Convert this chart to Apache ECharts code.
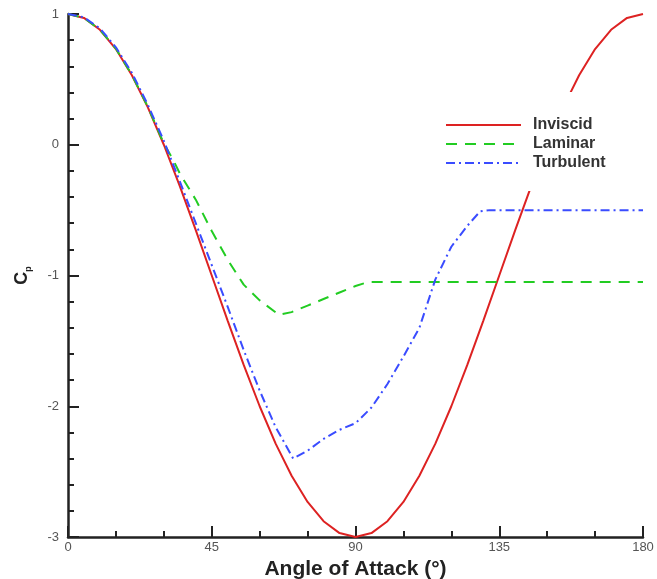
<html>
<head>
    <meta charset="utf-8">
    <title>Cp vs Angle of Attack</title>
    <script src="https://cdn.jsdelivr.net/npm/echarts@6/dist/echarts.min.js"></script>
</head>
<body style="margin:0;background:#fff">
<div id="main" style="width: 657px;height:579px;"></div>
<script type="text/javascript">
    // values: [angle, Cp]
    var inviscid = [
        [0, 1], [5, 0.97], [10, 0.879], [15, 0.732], [20, 0.532], [25, 0.286], [30, 0],
        [35, -0.316], [40, -0.653], [45, -1], [50, -1.347], [55, -1.684], [60, -2],
        [65, -2.286], [70, -2.532], [75, -2.732], [80, -2.879], [85, -2.97], [90, -3],
        [95, -2.97], [100, -2.879], [105, -2.732], [110, -2.532], [115, -2.286], [120, -2],
        [125, -1.684], [130, -1.347], [135, -1], [140, -0.653], [145, -0.316], [150, 0],
        [155, 0.286], [160, 0.532], [165, 0.732], [170, 0.879], [175, 0.97], [180, 1]
    ];
    var laminar = [
        [0, 1], [5, 0.97], [10, 0.88], [15, 0.735], [20, 0.535], [25, 0.29], [30, 0.01],
        [33, -0.12], [35, -0.22], [40, -0.42], [45, -0.66], [50, -0.88], [55, -1.07],
        [60, -1.19], [66, -1.3], [70, -1.28], [75, -1.23], [80, -1.18], [85, -1.13],
        [90, -1.08], [94, -1.05], [120, -1.05], [150, -1.05], [180, -1.05]
    ];
    var turbulent = [
        [0, 1], [5, 0.975], [10, 0.89], [15, 0.745], [20, 0.55], [25, 0.305], [30, 0.03],
        [35, -0.28], [40, -0.6], [45, -0.92], [50, -1.24], [55, -1.57], [60, -1.88],
        [65, -2.16], [70.5, -2.4], [75, -2.34], [80, -2.25], [85, -2.18], [90, -2.13],
        [95, -2.01], [100, -1.83], [105, -1.62], [110, -1.4], [115, -1.03], [120, -0.78],
        [125, -0.62], [129, -0.51], [132, -0.5], [150, -0.5], [180, -0.5]
    ];
    var names = ['Inviscid', 'Laminar', 'Turbulent'];

    var myChart = echarts.init(document.getElementById('main'));
    var font = 'Liberation Sans, Arial, sans-serif';

    myChart.setOption({
        animation: false,
        grid: {left: 68, right: 14, top: 14, bottom: 42, containLabel: false, outerBoundsMode: 'none'},
        legend: {
            data: names,
            orient: 'vertical',
            left: 440, top: 92,
            padding: [25, 12, 20, 5],
            itemWidth: 75, itemHeight: 14, itemGap: 3,
            backgroundColor: '#fff',
            z: 10,
            itemStyle: {opacity: 0},
            textStyle: {fontFamily: font, fontWeight: 'bold', fontSize: 16, lineHeight: 14, color: '#333', padding: [0, 0, 0, 7]}
        },
        xAxis: {
            type: 'value', min: 0, max: 180, interval: 45,
            name: 'Angle of Attack (°)', nameLocation: 'middle', nameGap: 20,
            nameTextStyle: {fontFamily: font, fontWeight: 'bold', fontSize: 21, color: '#222'},
            axisLine: {onZero: false, lineStyle: {color: '#222', width: 2.5}},
            axisTick: {inside: true, length: 11, lineStyle: {color: '#222', width: 2}},
            minorTick: {show: true, splitNumber: 3, length: 6, lineStyle: {color: '#222', width: 2}},
            axisLabel: {margin: 4, fontFamily: font, fontSize: 13, color: '#555'},
            splitLine: {show: false}
        },
        yAxis: {
            type: 'value', min: -3, max: 1, interval: 1,
            name: '{c|C}{p|p}', nameLocation: 'middle', nameGap: 35, nameRotate: 90,
            nameTextStyle: {
                rich: {
                    c: {fontFamily: font, fontWeight: 'bold', fontSize: 18, color: '#222', lineHeight: 21},
                    p: {fontFamily: font, fontWeight: 'bold', fontSize: 9, color: '#222', lineHeight: 21, verticalAlign: 'bottom', padding: [7, 0, 0, 0]}
                }
            },
            axisLine: {show: true, onZero: false, lineStyle: {color: '#222', width: 2.5}},
            axisTick: {show: true, inside: true, length: 11, lineStyle: {color: '#222', width: 2}},
            minorTick: {show: true, splitNumber: 5, length: 6, lineStyle: {color: '#222', width: 2}},
            axisLabel: {margin: 9, fontFamily: font, fontSize: 13, color: '#555'},
            splitLine: {show: false}
        },
        series: [{
            name: names[0], type: 'line', data: inviscid, symbol: 'none', z: 3,
            lineStyle: {color: '#dd2222', width: 2}, itemStyle: {color: '#dd2222'}
        }, {
            name: names[1], type: 'line', data: laminar, symbol: 'none',
            lineStyle: {color: '#22cc22', width: 2, type: [11, 8]}, itemStyle: {color: '#22cc22'}
        }, {
            name: names[2], type: 'line', data: turbulent, symbol: 'none',
            lineStyle: {color: '#3a4cff', width: 2, type: [9, 4, 2, 4]}, itemStyle: {color: '#3a4cff'}
        }]
    });
</script>
</body>
</html>
